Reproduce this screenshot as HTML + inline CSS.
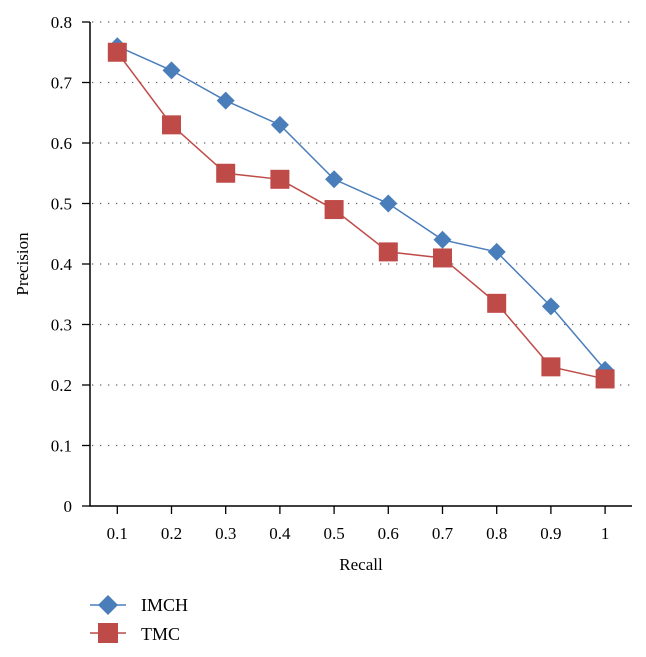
<!DOCTYPE html>
<html><head><meta charset="utf-8"><style>
body{margin:0;background:#fff;}
svg{display:block;font-family:"Liberation Serif",serif;}
</style></head><body>
<svg id="chart" width="646" height="657"></svg>
<script>
const categories=[0.1,0.2,0.3,0.4,0.5,0.6,0.7,0.8,0.9,1];
const catLabels=["0.1","0.2","0.3","0.4","0.5","0.6","0.7","0.8","0.9","1"];
const imch=[0.76,0.72,0.67,0.63,0.54,0.50,0.44,0.42,0.33,0.225];
const tmc=[0.75,0.63,0.55,0.54,0.49,0.42,0.41,0.335,0.23,0.21];
const yTicks=[0,0.1,0.2,0.3,0.4,0.5,0.6,0.7,0.8];
const yLabels=["0","0.1","0.2","0.3","0.4","0.5","0.6","0.7","0.8"];
const NS="http://www.w3.org/2000/svg";
const svg=document.getElementById('chart');
function x(i){return 117.3+i*54.2;}
function y(v){return 506-v*(484/0.8);}
function mk(t,a,p){const e=document.createElementNS(NS,t);for(const k in a)e.setAttribute(k,a[k]);(p||svg).appendChild(e);return e;}
yTicks.forEach((v,i)=>{
  if(v>0){const g=mk('line',{x1:92,x2:632,y1:y(v),y2:y(v),stroke:'#666','stroke-width':1.3,'stroke-dasharray':'1.3 6.7'});
  
  }
  const tk=mk('line',{x1:82,x2:90,y1:y(v),y2:y(v),stroke:'#000','stroke-width':1.3});
  
  
  const t=mk('text',{x:72,y:y(v)+6,'text-anchor':'end','font-size':17});
  t.textContent=yLabels[i];
  
  
});
categories.forEach((c,i)=>{
  const tk=mk('line',{x1:x(i),x2:x(i),y1:506,y2:514,stroke:'#000','stroke-width':1.3});
  
  
  const t=mk('text',{x:x(i),y:539,'text-anchor':'middle','font-size':17});
  t.textContent=catLabels[i];
  
  
});
const ax=mk('path',{d:'M90 22V506H632',fill:'none',stroke:'#000','stroke-width':1.5});


const xt=mk('text',{x:361,y:570,'text-anchor':'middle','font-size':17});xt.textContent='Recall';


const yt=mk('text',{x:28,y:264,'text-anchor':'middle','font-size':17,transform:'rotate(-90 28 264)'});yt.textContent='Precision';


function diamond(cx,cy,r,name){const d=mk('path',{d:`M${cx} ${cy-r}L${cx+r} ${cy}L${cx} ${cy+r}L${cx-r} ${cy}Z`,fill:'#4a7ebb'});
  
  }
function square(cx,cy,s,name){const d=mk('rect',{x:cx-s/2,y:cy-s/2,width:s,height:s,fill:'#be4b48'});
  
  }
const l1=mk('polyline',{points:imch.map((v,i)=>x(i)+','+y(v)).join(' '),fill:'none',stroke:'#4a7ebb','stroke-width':1.5});


imch.forEach((v,i)=>diamond(x(i),y(v),9,'imch-point'));
const l2=mk('polyline',{points:tmc.map((v,i)=>x(i)+','+y(v)).join(' '),fill:'none',stroke:'#be4b48','stroke-width':1.5});


tmc.forEach((v,i)=>square(x(i),y(v),19,'tmc-point'));
// legend
const lg1=mk('line',{x1:90,x2:126,y1:605,y2:605,stroke:'#4a7ebb','stroke-width':1.5});


diamond(108,605,10,'legend-imch-marker');
const tx1=mk('text',{x:141,y:611,'font-size':18});tx1.textContent='IMCH';


const lg2=mk('line',{x1:90,x2:126,y1:633,y2:633,stroke:'#be4b48','stroke-width':1.5});


square(108,633,20,'legend-tmc-marker');
const tx2=mk('text',{x:141,y:640,'font-size':18});tx2.textContent='TMC';


</script>
</body></html>
